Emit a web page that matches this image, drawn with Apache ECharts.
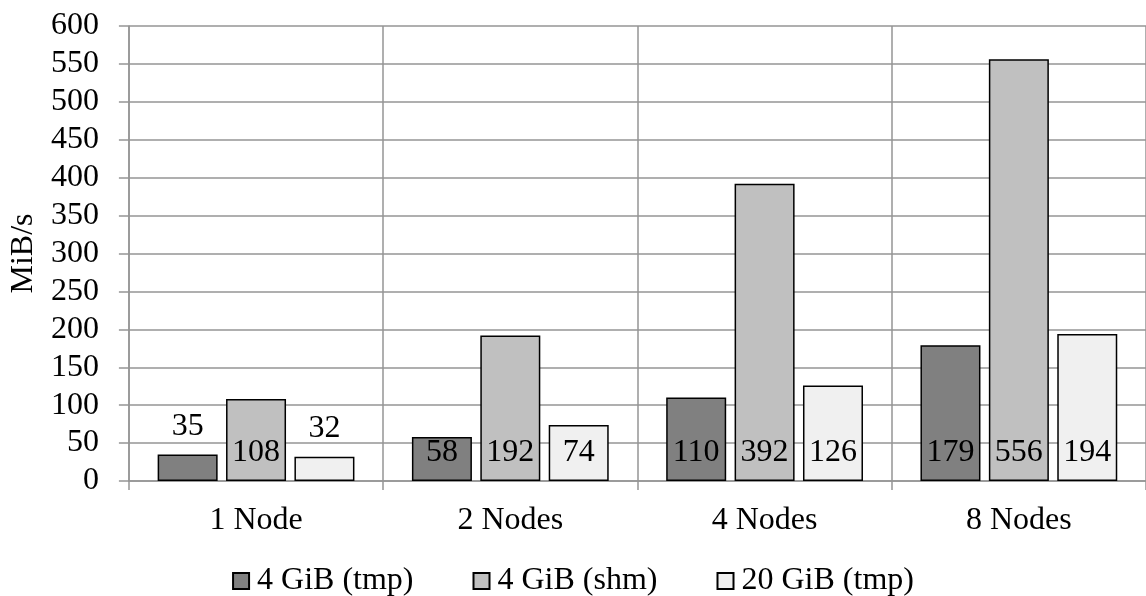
<!DOCTYPE html>
<html>
<head>
<meta charset="utf-8">
<script src="https://cdn.jsdelivr.net/npm/echarts@6/dist/echarts.min.js"></script>
<style>html,body{margin:0;padding:0;background:#fff}#c{width:1146px;height:596px}</style>
</head>
<body>
<div id="c"></div>
<script>
var categories = ['1 Node', '2 Nodes', '4 Nodes', '8 Nodes'];
var seriesNames = ['4 GiB (tmp)', '4 GiB (shm)', '20 GiB (tmp)'];
var tmp4 = [35, 58, 110, 179];
var shm4 = [108, 192, 392, 556];
var tmp20 = [32, 74, 126, 194];
var colors = ['#808080', '#c0c0c0', '#f0f0f0'];
var labelsAbove = [[0], [], [0]]; // indices whose label sits above the bar

var FONT = 'Liberation Serif';
var FS = 32;
function mkSeries(name, vals, color, aboveIdx) {
  return {
    name: name,
    type: 'bar',
    barWidth: 60,
    barGap: '14%',
    itemStyle: { color: color, borderColor: '#000', borderWidth: 1.5 },
    label: {
      show: true,
      position: 'insideBottom',
      distance: 12,
      color: '#000',
      fontFamily: FONT,
      fontSize: FS
    },
    data: vals.map(function (v, i) {
      if (aboveIdx.indexOf(i) >= 0) {
        return { value: v, label: { position: 'top', distance: 12 } };
      }
      return v;
    })
  };
}
var chart = echarts.init(document.getElementById('c'), null, { renderer: 'canvas' });
chart.setOption({
  animation: false,
  backgroundColor: '#fff',
  textStyle: { fontFamily: FONT },
  grid: { left: 127, right: -5, top: 26, bottom: 115, containLabel: false },
  legend: {
    top: 560,
    left: 'center',
    itemWidth: 16,
    itemHeight: 16,
    itemGap: 59,
    icon: 'rect',
    textStyle: { fontFamily: FONT, fontSize: FS, color: '#000', padding: [0, 0, 0, 3] },
    data: seriesNames
  },
  xAxis: {
    type: 'category',
    data: categories,
    axisLine: { lineStyle: { color: '#959595', width: 1.5 } },
    axisTick: { show: true, length: 9, lineStyle: { color: '#959595', width: 1.5 } },
    splitLine: { show: true, lineStyle: { color: '#959595', width: 1.5 } },
    axisLabel: { fontFamily: FONT, fontSize: FS, color: '#000', margin: 24 }
  },
  yAxis: {
    type: 'value',
    min: 0,
    max: 600,
    interval: 50,
    name: 'MiB/s',
    nameLocation: 'middle',
    nameGap: 84,
    nameRotate: 90,
    nameTextStyle: { fontFamily: FONT, fontSize: FS, color: '#000' },
    axisLine: { show: true, lineStyle: { color: '#959595', width: 1.5 } },
    axisTick: { show: true, length: 10, lineStyle: { color: '#959595', width: 1.5 } },
    splitLine: { show: true, lineStyle: { color: '#959595', width: 1.5 } },
    axisLabel: { fontFamily: FONT, fontSize: FS, color: '#000', margin: 30 }
  },
  series: [
    mkSeries(seriesNames[0], tmp4, colors[0], labelsAbove[0]),
    mkSeries(seriesNames[1], shm4, colors[1], labelsAbove[1]),
    mkSeries(seriesNames[2], tmp20, colors[2], labelsAbove[2])
  ]
});
</script>
</body>
</html>
